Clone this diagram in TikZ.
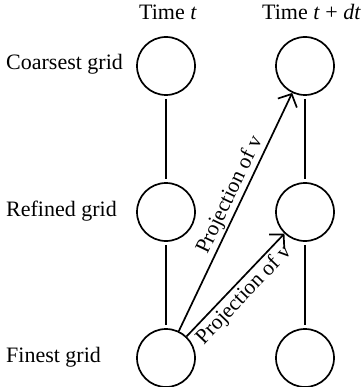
\documentclass[tikz,border=0pt]{standalone}
\usepackage{fontspec}
\setmainfont{Liberation Serif}
\usetikzlibrary{arrows.meta}
\begin{document}
\begin{tikzpicture}[x=1pt,y=-1pt,
 grid/.style={circle,draw,line width=1.7pt,minimum size=58pt,inner sep=0pt},
 lbl/.style={font=\fontsize{22}{26}\selectfont,inner sep=0pt},
 conn/.style={line width=1.7pt,shorten >=3pt,shorten <=3pt},
 proj/.style={line width=1.7pt,-{Straight Barb[length=10pt,width=21pt,line width=1.7pt]}},
 projlbl/.style={font=\fontsize{21.5}{24}\selectfont,sloped,inner sep=1.5pt}]
\useasboundingbox (0,0) rectangle (363,387);
% titles
\node[lbl,anchor=base] (tt) at (168,20) {Time \textit{t}};
\node[lbl,anchor=base east] (tdt) at (361,20) {Time \textit{t} + \textit{dt}};
% circles
\node[grid] (l1) at (166,66) {};
\node[grid] (l2) at (166,212) {};
\node[grid] (l3) at (166,358) {};
\node[grid] (r1) at (305,66) {};
\node[grid] (r2) at (305,212) {};
\node[grid] (r3) at (305,358) {};
% row labels
\node[lbl,anchor=base west] (lc) at (6,70) {Coarsest grid};
\node[lbl,anchor=base west] (lr) at (6,216) {Refined grid};
\node[lbl,anchor=base west] (lf) at (6,362) {Finest grid};
% vertical connectors
\draw[conn] (l1) -- (l2);
\draw[conn] (l2) -- (l3);
\draw[conn] (r1) -- (r2);
\draw[conn] (r2) -- (r3);
% projections
\draw[proj] (l3) -- node[projlbl,above,pos=0.55] {Projection of v} (r1);
\draw[proj] (l3) -- node[projlbl,below,pos=0.49,yshift=-1pt] {Projection of v} (r2);
\end{tikzpicture}
\end{document}
